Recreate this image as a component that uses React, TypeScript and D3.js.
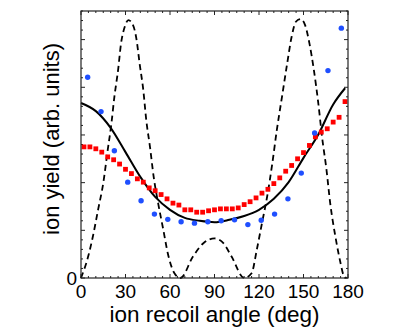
import React from 'react';
import * as d3 from 'd3';

const W = 415;
const H = 329;
const margin = { top: 11, right: 67, bottom: 51, left: 81 };

// x tick labels (deg) and the only labelled y tick
const xTickLabels = [0, 30, 60, 90, 120, 150, 180];
const yTickLabels = [0];

// red squares
const squareAngle = [2, 6, 10, 14, 18, 22, 26, 30, 34, 38, 42, 46, 50, 54, 58, 62, 66, 70, 74, 78, 82, 86, 90,
  94, 98, 102, 106, 110, 114, 118, 122, 126, 130, 134, 138, 142, 146, 150, 154, 158, 162, 166, 170, 174, 178];
const squareYield = [2.75, 2.75, 2.71, 2.64, 2.54, 2.48, 2.39, 2.28, 2.19, 2.08, 2.01, 1.89, 1.83, 1.75, 1.66,
  1.57, 1.53, 1.43, 1.43, 1.38, 1.38, 1.41, 1.43, 1.45, 1.45, 1.45, 1.47, 1.54, 1.6, 1.68, 1.78, 1.86, 1.98,
  2.1, 2.24, 2.36, 2.5, 2.63, 2.78, 2.96, 3.06, 3.13, 3.27, 3.37, 3.7];

// blue dots
const dotAngle = [4.5, 13.5, 22.5, 31.5, 40.5, 49.5, 58.5, 67.5, 76.5, 85.5, 94.5, 103.5, 112.5, 121.5,
  130.5, 139.5, 148.5, 157.5, 166.5, 175.5];
const dotYield = [4.21, 3.49, 2.67, 2.01, 1.62, 1.34, 1.23, 1.18, 1.15, 1.18, 1.2, 1.22, 1.12, 1.21, 1.34,
  1.66, 2.2, 3.04, 4.35, 5.24];

// solid curve
const fitAngle = [0, 10, 20, 30, 40, 50, 60, 70, 80, 90, 100, 110, 120, 130, 140, 150, 160, 170, 178];
const fitYield = [3.67, 3.5, 3.15, 2.64, 2.12, 1.7, 1.43, 1.26, 1.2, 1.17, 1.22, 1.3, 1.43, 1.66, 2.01, 2.52,
  3.01, 3.64, 3.98];

// dashed curve
const dashAngle = [0, 5, 8, 11.5, 15, 18, 20.5, 22.5, 25, 27, 29.5, 32, 35, 37.5, 39.5, 42, 44, 46.5, 49, 52,
  55.5, 58.5, 63, 67, 75.5, 82.5, 90, 96, 101.5, 110, 115, 118.5, 122, 125.5, 129, 132, 135.5, 139, 142, 145,
  148, 151, 154, 157, 160, 162.5, 165.5, 168, 171.5, 175, 177, 179];
const dashYield = [0, 0.47, 0.87, 1.43, 1.99, 2.68, 3.24, 3.8, 4.36, 4.92, 5.27, 5.41, 5.31, 4.99, 4.5, 3.94,
  3.31, 2.75, 2.12, 1.57, 1.01, 0.52, 0.1, 0, 0.45, 0.73, 0.83, 0.73, 0.45, 0, 0.1, 0.59, 1.15, 1.71, 2.41,
  3.1, 3.8, 4.5, 5.06, 5.38, 5.43, 5.31, 4.92, 4.36, 3.66, 2.96, 2.27, 1.57, 0.87, 0.31, 0.06, 0];

const font = 'Liberation Sans, Arial, Helvetica, sans-serif';

const App = () => {
  const x = d3.scaleLinear().domain([0, 180]).range([margin.left, W - margin.right]);
  const y = d3.scaleLinear().domain([0, 5.6]).range([H - margin.bottom, margin.top]);
  const [x0, x1] = x.range();
  const [y0, y1] = y.range();

  const line = d3.line<[number, number]>()
    .x(d => x(d[0]))
    .y(d => y(d[1]))
    .curve(d3.curveMonotoneX);

  const fit = fitAngle.map((a, i) => [a, fitYield[i]] as [number, number]);
  const dash = dashAngle.map((a, i) => [a, dashYield[i]] as [number, number]);

  const xMinor = d3.range(0, 181, 5);
  const yMinor = d3.range(0, 5.61, 0.2);
  const isMajorX = (v: number) => v % 30 === 0;
  const isMajorY = (v: number) => Math.abs(v - Math.round(v)) < 1e-6;

  return (
    <svg width={W} height={H} style={{ position: 'absolute', left: 0, top: 0, background: '#fff' }}>
      {/* ticks, inward on all four sides */}
      <g stroke="#222" strokeWidth={1}>
        {xMinor.map(v => {
          const len = isMajorX(v) ? 4 : 2;
          return (
            <g key={'x' + v}>
              <line x1={x(v)} x2={x(v)} y1={y0} y2={y0 - len} />
              <line x1={x(v)} x2={x(v)} y1={y1} y2={y1 + len} />
            </g>
          );
        })}
        {yMinor.map(v => {
          const len = isMajorY(v) ? 4 : 2;
          return (
            <g key={'y' + v}>
              <line x1={x0} x2={x0 + len} y1={y(v)} y2={y(v)} />
              <line x1={x1} x2={x1 - len} y1={y(v)} y2={y(v)} />
            </g>
          );
        })}
      </g>

      {/* data */}
      <path d={line(dash) || ''} fill="none" stroke="#000" strokeWidth={1.8} strokeDasharray="6 4" />
      <path d={line(fit) || ''} fill="none" stroke="#000" strokeWidth={2} />
      {squareAngle.map((a, i) => (
        <rect key={'s' + i} x={x(a) - 2.4} y={y(squareYield[i]) - 2.4} width={4.8} height={4.8} fill="#ff0000" />
      ))}
      {dotAngle.map((a, i) => (
        <circle key={'d' + i} cx={x(a)} cy={y(dotYield[i])} r={2.7} fill="#1f4fff" />
      ))}

      <rect x={x0} y={y1} width={x1 - x0} height={y0 - y1} fill="none" stroke="#222" strokeWidth={1.2} />

      {/* labels */}
      <g fontFamily={font} fontSize={19} fill="#000">
        {xTickLabels.map(v => (
          <text key={'xl' + v} x={x(v)} y={y0 + 20} textAnchor="middle">{v}</text>
        ))}
        {yTickLabels.map(v => (
          <text key={'yl' + v} x={x0 - 4} y={y(v) + 7} textAnchor="end">{v}</text>
        ))}
      </g>
      <text x={(x0 + x1) / 2} y={322} textAnchor="middle" fontFamily={font} fontSize={22.5}>
        ion recoil angle (deg)
      </text>
      <text transform="translate(59,139) rotate(-90)" textAnchor="middle" fontFamily={font} fontSize={22}>
        ion yield (arb. units)
      </text>
    </svg>
  );
};

export default App;
